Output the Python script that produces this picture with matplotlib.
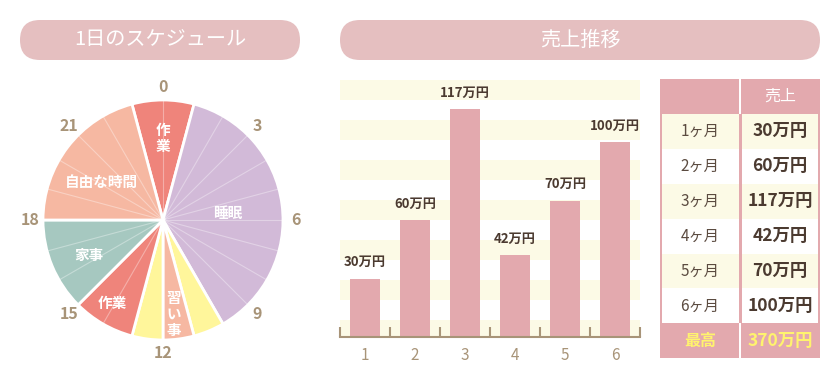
import matplotlib
matplotlib.use("Agg")
import matplotlib.pyplot as plt
import numpy as np
from matplotlib.patches import FancyBboxPatch, Rectangle

plt.rcParams['font.family'] = ['Noto Sans CJK JP', 'DejaVu Sans']

# --- data ---
pie_labels = ["作業", "睡眠", "", "習い事", "", "作業", "家事", "自由な時間"]
pie_hours = [2, 9, 1, 1, 1, 2, 3, 5]
pie_colors = ["#EF847B", "#D2BAD8", "#FFF69B", "#F6B8A2", "#FFF69B",
              "#EF847B", "#A6C8C0", "#F6B8A2"]
clock_ticks = [0, 3, 6, 9, 12, 15, 18, 21]

months = [1, 2, 3, 4, 5, 6]
sales = [30, 60, 117, 42, 70, 100]
month_labels = ["1ヶ月", "2ヶ月", "3ヶ月", "4ヶ月", "5ヶ月", "6ヶ月"]
total_label = "最高"
total_value = 370

PINK = "#E5BFC0"
TAN = "#A89478"
DARK = "#4B3A30"
CREAM = "#FCFAE6"

W, H = 840, 380
fig = plt.figure(figsize=(W / 100, H / 100), dpi=100)

# overlay axes in pixel coordinates (headers + table)
bg = fig.add_axes([0, 0, 1, 1])
bg.set_xlim(0, W)
bg.set_ylim(H, 0)
bg.axis("off")

def pill(x0, x1, y0, y1, text):
    r = (y1 - y0) / 2
    bg.add_patch(FancyBboxPatch((x0, y0), x1 - x0, y1 - y0,
                                boxstyle=f"round,pad=0,rounding_size={r}",
                                fc=PINK, ec="none"))
    bg.text((x0 + x1) / 2, (y0 + y1) / 2, text, color="white",
            fontsize=14.5, ha="center", va="center")

pill(20, 300, 20, 60, "1日のスケジュール")
pill(340, 820, 20, 60, "売上推移")

# --- table ---
tx0, tx1, tmid = 660, 820, 740
ty0, rh = 79, 34.9
nrows = len(months) + 2
bg.add_patch(Rectangle((tx0, ty0), tx1 - tx0, rh * nrows, fc="#E3A9AE", ec="none"))
for i in range(len(months)):
    y = ty0 + rh * (i + 1)
    fc = CREAM if i % 2 == 0 else "white"
    bg.add_patch(Rectangle((tx0 + 2, y), tmid - tx0 - 3, rh, fc=fc, ec="none"))
    bg.add_patch(Rectangle((tmid + 1.5, y), tx1 - tmid - 3.5, rh, fc=fc, ec="none"))
    bg.text((tx0 + tmid) / 2, y + rh / 2, month_labels[i], color="#5B4B40",
            fontsize=11, ha="center", va="center")
    bg.text((tmid + tx1) / 2, y + rh / 2, f"{sales[i]}万円", color=DARK,
            fontsize=12.5, fontweight="bold", ha="center", va="center")
# white dividers in header / footer
for y in (ty0, ty0 + rh * (nrows - 1)):
    bg.add_patch(Rectangle((tmid - 1, y), 2, rh, fc="white", ec="none"))
bg.text((tmid + tx1) / 2, ty0 + rh / 2, "売上", color="white",
        fontsize=11.5, ha="center", va="center")
yf = ty0 + rh * (nrows - 1) + rh / 2
bg.text((tx0 + tmid) / 2, yf, total_label, color="#FFF36E",
        fontsize=11.5, fontweight="bold", ha="center", va="center")
bg.text((tmid + tx1) / 2, yf, f"{total_value}万円", color="#FFF36E",
        fontsize=12.5, fontweight="bold", ha="center", va="center")

# --- pie (24h clock) ---
cx, cy, half = 163, 220, 144
ax = fig.add_axes([(cx - half) / W, (H - cy - half) / H, 2 * half / W, 2 * half / H])
ax.pie(pie_hours, colors=pie_colors, startangle=90 + 15, counterclock=False,
       radius=1, wedgeprops=dict(edgecolor="white", linewidth=2))
# faint hour lines
for h in range(24):
    a = np.deg2rad(90 - h * 15)
    ax.plot([0, np.cos(a)], [0, np.sin(a)], color="white", alpha=0.35,
            lw=0.8, zorder=3)
for h in clock_ticks:
    a = np.deg2rad(90 - h * 15)
    ax.text(1.11 * np.cos(a), 1.11 * np.sin(a), str(h), color=TAN,
            fontsize=11.5, fontweight="bold", ha="center", va="center")
label_pos = {0: (0, 0.68, True), 1: (0.54, 0.06, False), 3: (0.09, -0.78, True),
             5: (-0.42, -0.69, False), 6: (-0.62, -0.29, False),
             7: (-0.51, 0.32, False)}
for i, (x, y, vert) in label_pos.items():
    txt = "\n".join(pie_labels[i]) if vert else pie_labels[i]
    ax.text(x, y, txt, color="white", fontsize=10.5, fontweight="bold",
            ha="center", va="center", linespacing=1.0, zorder=4)
ax.set_xlim(-1.2, 1.2)
ax.set_ylim(-1.2, 1.2)
ax.set_aspect("equal")
ax.axis("off")

# --- bar chart ---
bx0, bx1, by0, by1 = 340, 640, 80, 337
bar = fig.add_axes([bx0 / W, (H - by1) / H, (bx1 - bx0) / W, (by1 - by0) / H])
bar.set_xlim(0.5, 6.5)
bar.set_ylim(0, 132)
hpx = by1 - by0
for k in range(7):
    top = 40 * k
    bot = min(top + 20, hpx)
    bar.add_patch(Rectangle((0, 1 - bot / hpx), 1, (bot - top) / hpx,
                            transform=bar.transAxes, fc=CREAM, ec="none", zorder=0))
bar.bar(months, sales, width=0.6, color="#E3A9AE", zorder=2)
for m, v in zip(months, sales):
    bar.text(m, v + 5, f"{v}万円", color=DARK, fontsize=9.5, fontweight="bold",
             ha="center", va="bottom")
for s in ("top", "left", "right"):
    bar.spines[s].set_visible(False)
bar.spines["bottom"].set_color(TAN)
bar.spines["bottom"].set_linewidth(1.5)
bar.set_yticks([])
bar.set_xticks(months)
bar.set_xticks(np.arange(0.5, 7, 1), minor=True)
bar.tick_params(axis="x", which="major", length=0, pad=7, labelcolor=TAN,
                labelsize=11)
bar.tick_params(axis="x", which="minor", direction="in", length=7, width=1.5,
                color=TAN)
bar.set_facecolor("white")

fig.savefig("out.png", dpi=100)
